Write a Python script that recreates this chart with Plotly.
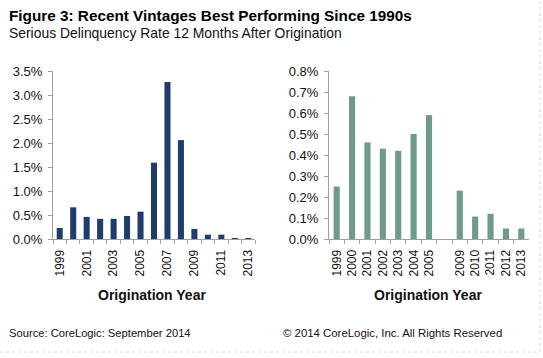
import plotly.graph_objects as go

years_left = [str(y) for y in range(1999, 2014)]
rate_left = [0.23, 0.66, 0.46, 0.42, 0.42, 0.48, 0.57, 1.59, 3.27, 2.06, 0.21, 0.09, 0.09, 0.02, 0.02]
left_labels = [y if int(y) % 2 == 1 else "" for y in years_left]

years_right = ["1999", "2000", "2001", "2002", "2003", "2004", "2005", " ", "2009", "2010", "2011", "2012", "2013"]
rate_right = [0.25, 0.68, 0.46, 0.43, 0.42, 0.50, 0.59, None, 0.23, 0.107, 0.12, 0.05, 0.05]

left_ticks = [0, 0.5, 1.0, 1.5, 2.0, 2.5, 3.0, 3.5]
right_ticks = [0, 0.1, 0.2, 0.3, 0.4, 0.5, 0.6, 0.7, 0.8]

FONT = "Liberation Sans, Arial, sans-serif"
AX = "#a0a0a0"
H = 358
W = 543

fig = go.Figure()
fig.add_trace(go.Bar(x=years_left, y=rate_left, marker=dict(color="#1f3d6b", line=dict(width=0)),
                     width=0.45, xaxis="x", yaxis="y", showlegend=False))
fig.add_trace(go.Bar(x=years_right, y=rate_right, marker=dict(color="#6d9c8a", line=dict(width=0)),
                     width=0.4, xaxis="x2", yaxis="y2", showlegend=False))

ydom = [1 - 239 / H, 1 - 71 / H]
common_x = dict(type="category", showline=True, linecolor=AX, linewidth=1, ticks="outside",
                tickson="boundaries", ticklen=4, tickcolor=AX, tickangle=-90, automargin=False,
                ticklabelstandoff=5,
                tickfont=dict(family=FONT, size=12, color="#111"), showgrid=False)
common_y = dict(showline=True, linecolor=AX, linewidth=1, ticks="outside", ticklen=4, tickcolor=AX,
                automargin=False, ticklabelstandoff=3,
                tickfont=dict(family=FONT, size=13, color="#111"), showgrid=False, zeroline=False)


def ann(text, x, y, size, xanchor="left", color="#111"):
    return dict(text=text, x=x / W, y=1 - y / H, xref="paper", yref="paper", xanchor=xanchor,
                yanchor="middle", showarrow=False, font=dict(family=FONT, size=size, color=color))


fig.update_layout(
    width=W, height=H, margin=dict(l=0, r=0, t=0, b=0),
    paper_bgcolor="white", plot_bgcolor="white",
    xaxis=dict(domain=[53 / W, 255 / W], anchor="y", tickmode="array",
               tickvals=years_left, ticktext=left_labels, **common_x),
    yaxis=dict(domain=ydom, anchor="x", range=[0, 3.5], tickvals=left_ticks,
               ticktext=[f"{v:.1f}%" for v in left_ticks], **common_y),
    xaxis2=dict(domain=[329 / W, 529 / W], anchor="y2", tickmode="array",
                tickvals=years_right, ticktext=years_right, **common_x),
    yaxis2=dict(domain=ydom, anchor="x2", range=[0, 0.8], tickvals=right_ticks,
                ticktext=[f"{v:.1f}%" for v in right_ticks], **common_y),
    annotations=[
        ann("<b>Figure 3: Recent Vintages Best Performing Since 1990s</b>", 7, 15, 15.3, color="#000"),
        ann("Serious Delinquency Rate 12 Months After Origination", 7, 33, 13.9),
        ann("<b>Origination Year</b>", 152, 295, 14, xanchor="center"),
        ann("<b>Origination Year</b>", 428, 295, 14, xanchor="center"),
        ann("Source: CoreLogic: September 2014", 7, 333, 11.2),
        ann("© 2014 CoreLogic, Inc. All Rights Reserved", 504, 333, 11.4, xanchor="right"),
    ],
    shapes=[
        dict(type="line", xref="paper", yref="paper", x0=540 / W, x1=540 / W, y0=1 - 352 / H, y1=1,
             line=dict(color="#d8d8d8", width=1, dash="dot")),
        dict(type="line", xref="paper", yref="paper", x0=0, x1=540 / W, y0=1 - 352 / H, y1=1 - 352 / H,
             line=dict(color="#d8d8d8", width=1, dash="dot")),
    ],
)

fig.write_html("out.html", config={"displayModeBar": False},
               post_script="document.body.style.margin='0';document.body.style.overflow='hidden';")
